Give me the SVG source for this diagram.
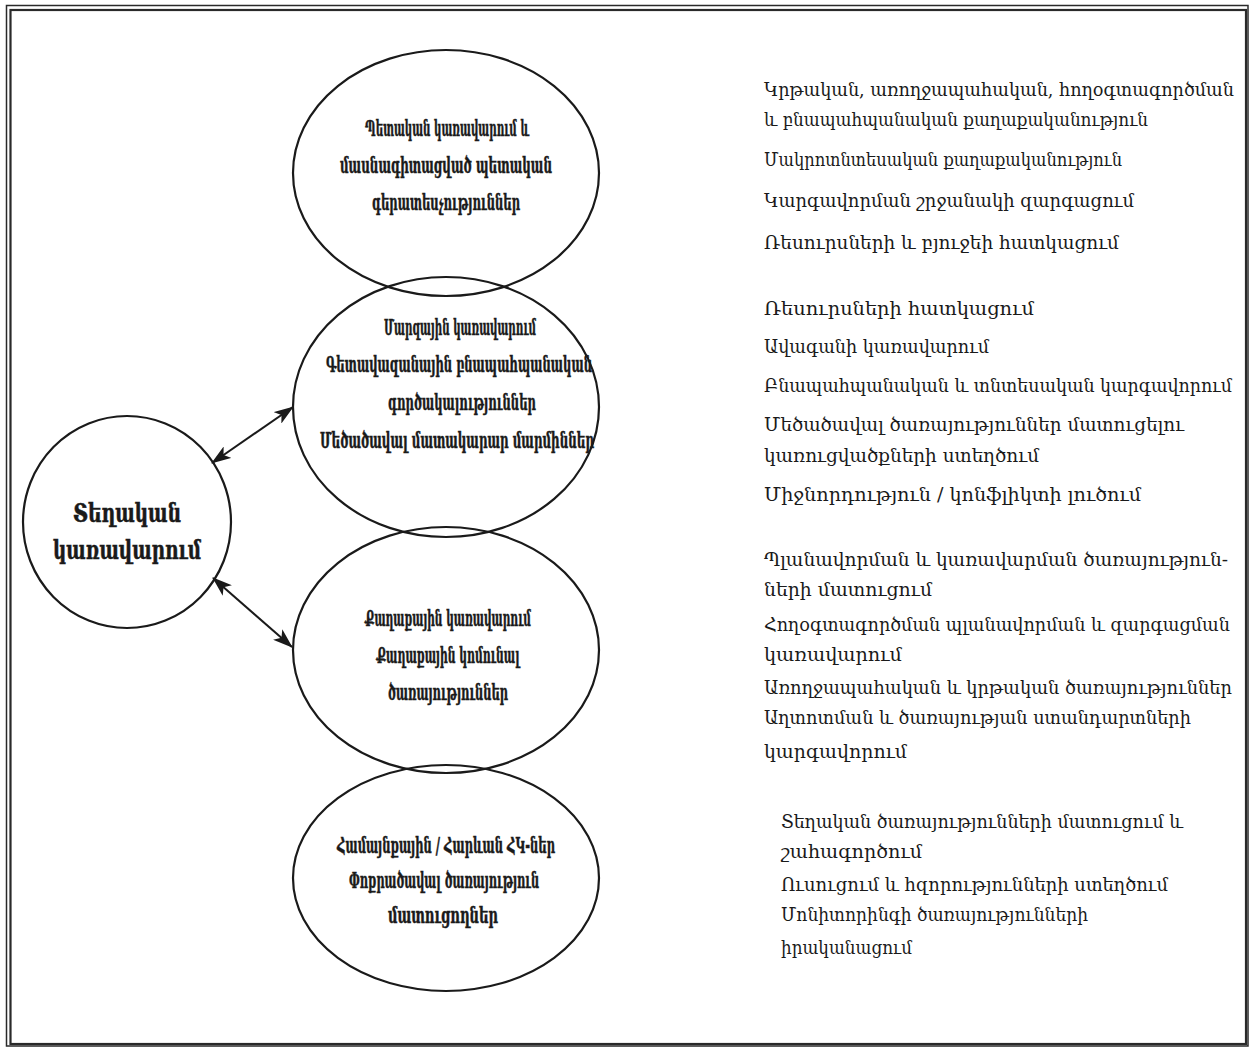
<svg xmlns="http://www.w3.org/2000/svg" width="1250" height="1048" viewBox="0 0 1250 1048">
<style>
.frame{fill:none;stroke:#2a2a2a}
.shape{fill:none;stroke:#1a1a1a;stroke-width:2.2}
.conn{stroke:#1a1a1a;stroke-width:2;fill:none}
.t{font-family:"DejaVu Serif Condensed","DejaVu Serif","DejaVu Sans",serif;fill:#1a1a1a}
.b{font-size:22px;font-weight:bold;text-anchor:middle;stroke:#1a1a1a;stroke-width:0.5}
.c{font-size:26px}
.r{font-size:19px}
</style>
<defs>
<marker id="ah" viewBox="0 0 20 14" refX="19" refY="7" markerWidth="20" markerHeight="14" markerUnits="userSpaceOnUse" orient="auto-start-reverse">
<path d="M0,0 L20,7 L0,14 L5,7 Z" fill="#1a1a1a"/>
</marker>
</defs>
<rect width="1250" height="1048" fill="#fff"/>
<rect class="frame" x="6.5" y="5.5" width="1241.5" height="1040.5" stroke-width="1.5"/>
<rect class="frame" x="10.5" y="10" width="1235.5" height="1034" stroke-width="2.2"/>

<g id="connectors">
<line class="conn" x1="212" y1="463" x2="293" y2="407" marker-start="url(#ah)" marker-end="url(#ah)"/>
<line class="conn" x1="213" y1="578" x2="292" y2="647" marker-start="url(#ah)" marker-end="url(#ah)"/>
</g>

<g id="node-local">
<ellipse class="shape" cx="127" cy="522" rx="104" ry="106"/>
<text class="t b c" x="127" y="522" textLength="108" lengthAdjust="spacingAndGlyphs">Տեղական</text>
<text class="t b c" x="127" y="559" textLength="148" lengthAdjust="spacingAndGlyphs">կառավարում</text>
</g>

<g id="node-state">
<ellipse class="shape" cx="446" cy="173" rx="153" ry="123"/>
<text class="t b" x="447" y="136" textLength="164" lengthAdjust="spacingAndGlyphs">Պետական կառավարում և</text>
<text class="t b" x="446" y="173" textLength="212" lengthAdjust="spacingAndGlyphs">մասնագիտացված պետական</text>
<text class="t b" x="446" y="210" textLength="148" lengthAdjust="spacingAndGlyphs">գերատեսչություններ</text>
</g>

<g id="node-regional">
<ellipse class="shape" cx="446" cy="407" rx="153" ry="130"/>
<text class="t b" x="460" y="335" textLength="152" lengthAdjust="spacingAndGlyphs">Մարզային կառավարում</text>
<text class="t b" x="459" y="372" textLength="266" lengthAdjust="spacingAndGlyphs">Գետավազանային բնապահպանական</text>
<text class="t b" x="462" y="410" textLength="148" lengthAdjust="spacingAndGlyphs">գործակալություններ</text>
<text class="t b" x="457" y="448" textLength="274" lengthAdjust="spacingAndGlyphs">Մեծածավալ մատակարար մարմիններ</text>
</g>

<g id="node-city">
<ellipse class="shape" cx="446" cy="650" rx="153" ry="123"/>
<text class="t b" x="448" y="626" textLength="166" lengthAdjust="spacingAndGlyphs">Քաղաքային կառավարում</text>
<text class="t b" x="448" y="663" textLength="143" lengthAdjust="spacingAndGlyphs">Քաղաքային կոմունալ</text>
<text class="t b" x="448" y="700" textLength="120" lengthAdjust="spacingAndGlyphs">ծառայություններ</text>
</g>

<g id="node-community">
<ellipse class="shape" cx="446" cy="878" rx="153" ry="113"/>
<text class="t b" x="446" y="853" textLength="218" lengthAdjust="spacingAndGlyphs">Համայնքային / Հարևան ՀԿ-ներ</text>
<text class="t b" x="444" y="888" textLength="190" lengthAdjust="spacingAndGlyphs">Փոքրածավալ ծառայություն</text>
<text class="t b" x="443" y="923" textLength="110" lengthAdjust="spacingAndGlyphs">մատուցողներ</text>
</g>

<g id="list-state">
<text class="t r" x="764" y="96" textLength="470" lengthAdjust="spacingAndGlyphs">Կրթական, առողջապահական, հողօգտագործման</text>
<text class="t r" x="764" y="126" textLength="384" lengthAdjust="spacingAndGlyphs">և բնապահպանական քաղաքականություն</text>
<text class="t r" x="764" y="166" textLength="358" lengthAdjust="spacingAndGlyphs">Մակրոտնտեսական քաղաքականություն</text>
<text class="t r" x="764" y="207" textLength="370" lengthAdjust="spacingAndGlyphs">Կարգավորման շրջանակի զարգացում</text>
<text class="t r" x="764" y="249" textLength="355" lengthAdjust="spacingAndGlyphs">Ռեսուրսների և բյուջեի հատկացում</text>
</g>

<g id="list-regional">
<text class="t r" x="764" y="315" textLength="270" lengthAdjust="spacingAndGlyphs">Ռեսուրսների հատկացում</text>
<text class="t r" x="764" y="353" textLength="225" lengthAdjust="spacingAndGlyphs">Ավագանի կառավարում</text>
<text class="t r" x="764" y="392" textLength="468" lengthAdjust="spacingAndGlyphs">Բնապահպանական և տնտեսական կարգավորում</text>
<text class="t r" x="764" y="431" textLength="420" lengthAdjust="spacingAndGlyphs">Մեծածավալ ծառայություններ մատուցելու</text>
<text class="t r" x="764" y="462" textLength="275" lengthAdjust="spacingAndGlyphs">կառուցվածքների ստեղծում</text>
<text class="t r" x="764" y="501" textLength="377" lengthAdjust="spacingAndGlyphs">Միջնորդություն / կոնֆլիկտի լուծում</text>
</g>

<g id="list-city">
<text class="t r" x="764" y="566" textLength="464" lengthAdjust="spacingAndGlyphs">Պլանավորման և կառավարման ծառայություն-</text>
<text class="t r" x="764" y="596" textLength="168" lengthAdjust="spacingAndGlyphs">ների մատուցում</text>
<text class="t r" x="764" y="631" textLength="466" lengthAdjust="spacingAndGlyphs">Հողօգտագործման պլանավորման և զարգացման</text>
<text class="t r" x="764" y="661" textLength="138" lengthAdjust="spacingAndGlyphs">կառավարում</text>
<text class="t r" x="764" y="694" textLength="468" lengthAdjust="spacingAndGlyphs">Առողջապահական և կրթական ծառայություններ</text>
<text class="t r" x="764" y="724" textLength="427" lengthAdjust="spacingAndGlyphs">Աղտոտման և ծառայության ստանդարտների</text>
<text class="t r" x="764" y="758" textLength="143" lengthAdjust="spacingAndGlyphs">կարգավորում</text>
</g>

<g id="list-community">
<text class="t r" x="781" y="828" textLength="402" lengthAdjust="spacingAndGlyphs">Տեղական ծառայությունների մատուցում և</text>
<text class="t r" x="781" y="858" textLength="141" lengthAdjust="spacingAndGlyphs">շահագործում</text>
<text class="t r" x="781" y="891" textLength="387" lengthAdjust="spacingAndGlyphs">Ուսուցում և հզորությունների ստեղծում</text>
<text class="t r" x="781" y="921" textLength="307" lengthAdjust="spacingAndGlyphs">Մոնիտորինգի ծառայությունների</text>
<text class="t r" x="781" y="954" textLength="131" lengthAdjust="spacingAndGlyphs">իրականացում</text>
</g>
</svg>
